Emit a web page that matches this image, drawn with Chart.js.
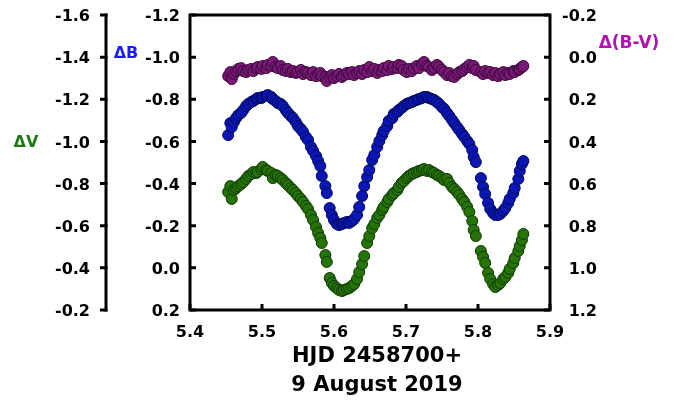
<!DOCTYPE html>
<html>
<head>
<meta charset="utf-8">
<script src="https://cdn.jsdelivr.net/npm/chart.js@4.4.0/dist/chart.umd.min.js"></script>
<style>
  html, body { margin: 0; padding: 0; background: #fff; }
  #wrap { width: 680px; height: 407px; }
</style>
</head>
<body>
<div id="wrap"><canvas id="lc" width="680" height="407"></canvas></div>
<script>
"use strict";

// HJD - 2458700 (shared by V and B observations)
const hjd = [
  5.453, 5.456, 5.458, 5.461, 5.464, 5.467, 5.471, 5.474, 5.478, 5.481,
  5.485, 5.488, 5.492, 5.494, 5.499, 5.501, 5.506, 5.508, 5.513, 5.515,
  5.519, 5.522, 5.526, 5.529, 5.533, 5.536, 5.540, 5.543, 5.547, 5.550,
  5.554, 5.557, 5.561, 5.564, 5.568, 5.571, 5.575, 5.578, 5.581, 5.583,
  5.588, 5.590, 5.594, 5.597, 5.600, 5.604, 5.607, 5.611, 5.614, 5.618,
  5.621, 5.625, 5.628, 5.632, 5.635, 5.639, 5.642, 5.646, 5.649, 5.653,
  5.656, 5.660, 5.663, 5.667, 5.669, 5.674, 5.676, 5.681, 5.683, 5.688,
  5.690, 5.694, 5.697, 5.701, 5.704, 5.708, 5.711, 5.715, 5.718, 5.722,
  5.725, 5.729, 5.732, 5.736, 5.739, 5.743, 5.746, 5.750, 5.753, 5.757,
  5.760, 5.764, 5.767, 5.771, 5.774, 5.778, 5.781, 5.785, 5.788, 5.792,
  5.794, 5.797, 5.804, 5.807, 5.810, 5.814, 5.817, 5.821, 5.824, 5.828,
  5.831, 5.835, 5.838, 5.842, 5.844, 5.849, 5.851, 5.856, 5.858, 5.861,
  5.863
];

// delta V (left outer axis)
const dV = [
  -0.760, -0.788, -0.727, -0.769, -0.779, -0.788, -0.798, -0.807, -0.822, -0.836,
  -0.845, -0.855, -0.850, -0.855, -0.869, -0.879, -0.864, -0.860, -0.850, -0.826,
  -0.841, -0.836, -0.826, -0.817, -0.803, -0.793, -0.779, -0.769, -0.755, -0.741,
  -0.727, -0.713, -0.694, -0.679, -0.651, -0.627, -0.594, -0.565, -0.542, -0.518,
  -0.461, -0.428, -0.352, -0.328, -0.314, -0.304, -0.295, -0.290, -0.295, -0.300,
  -0.304, -0.314, -0.323, -0.347, -0.380, -0.418, -0.456, -0.518, -0.551, -0.589,
  -0.608, -0.637, -0.651, -0.675, -0.689, -0.713, -0.727, -0.746, -0.755, -0.769,
  -0.784, -0.803, -0.812, -0.826, -0.836, -0.845, -0.850, -0.855, -0.860, -0.864,
  -0.869, -0.860, -0.864, -0.855, -0.850, -0.841, -0.836, -0.826, -0.817, -0.822,
  -0.803, -0.784, -0.774, -0.760, -0.746, -0.727, -0.713, -0.689, -0.665, -0.622,
  -0.580, -0.551, -0.480, -0.452, -0.423, -0.376, -0.347, -0.323, -0.309, -0.319,
  -0.328, -0.347, -0.357, -0.376, -0.395, -0.423, -0.447, -0.480, -0.504, -0.532,
  -0.561
];

// delta B (left inner axis)
const dB = [
  -0.630, -0.687, -0.668, -0.692, -0.711, -0.725, -0.735, -0.749, -0.768, -0.778,
  -0.787, -0.792, -0.801, -0.806, -0.806, -0.811, -0.816, -0.820, -0.811, -0.801,
  -0.792, -0.782, -0.778, -0.768, -0.749, -0.735, -0.721, -0.711, -0.692, -0.673,
  -0.659, -0.645, -0.621, -0.607, -0.574, -0.555, -0.531, -0.507, -0.483, -0.436,
  -0.388, -0.355, -0.284, -0.251, -0.227, -0.208, -0.203, -0.208, -0.213, -0.218,
  -0.213, -0.222, -0.232, -0.251, -0.289, -0.341, -0.388, -0.431, -0.464, -0.512,
  -0.536, -0.574, -0.602, -0.630, -0.649, -0.673, -0.697, -0.711, -0.730, -0.740,
  -0.749, -0.759, -0.768, -0.778, -0.782, -0.787, -0.792, -0.797, -0.801, -0.806,
  -0.811, -0.811, -0.806, -0.801, -0.797, -0.787, -0.778, -0.763, -0.754, -0.735,
  -0.721, -0.702, -0.687, -0.668, -0.654, -0.635, -0.621, -0.602, -0.588, -0.559,
  -0.526, -0.502, -0.426, -0.384, -0.350, -0.308, -0.279, -0.260, -0.251, -0.251,
  -0.256, -0.270, -0.284, -0.308, -0.327, -0.355, -0.379, -0.422, -0.460, -0.493,
  -0.507
];

// delta (B-V) (right axis)
const dBV = [
  0.090, 0.071, 0.104, 0.080, 0.066, 0.056, 0.052, 0.066, 0.071, 0.061,
  0.056, 0.066, 0.052, 0.047, 0.056, 0.042, 0.052, 0.037, 0.042, 0.023,
  0.047, 0.052, 0.042, 0.061, 0.066, 0.056, 0.071, 0.066, 0.075, 0.071,
  0.061, 0.080, 0.071, 0.075, 0.085, 0.071, 0.090, 0.080, 0.075, 0.090,
  0.094, 0.113, 0.094, 0.085, 0.099, 0.090, 0.080, 0.094, 0.085, 0.075,
  0.080, 0.071, 0.085, 0.075, 0.066, 0.080, 0.061, 0.071, 0.047, 0.066,
  0.056, 0.075, 0.061, 0.066, 0.052, 0.061, 0.042, 0.056, 0.047, 0.052,
  0.037, 0.042, 0.061, 0.071, 0.056, 0.066, 0.052, 0.042, 0.052, 0.033,
  0.023, 0.042, 0.047, 0.061, 0.052, 0.037, 0.047, 0.061, 0.071, 0.085,
  0.075, 0.090, 0.094, 0.080, 0.071, 0.066, 0.056, 0.047, 0.037, 0.052,
  0.042, 0.061, 0.071, 0.080, 0.066, 0.075, 0.071, 0.085, 0.075, 0.090,
  0.080, 0.071, 0.085, 0.075, 0.080, 0.066, 0.071, 0.061, 0.056, 0.047,
  0.042
];

// tick labels
const xTicks = [5.4, 5.5, 5.6, 5.7, 5.8, 5.9];
const vTicks = [-1.6, -1.4, -1.2, -1.0, -0.8, -0.6, -0.4, -0.2];
const bTicks = [-1.2, -1.0, -0.8, -0.6, -0.4, -0.2, 0.0, 0.2];
const bvTicks = [-0.2, 0.0, 0.2, 0.4, 0.6, 0.8, 1.0, 1.2];

const xTitle = ["HJD 2458700+", "9 August 2019"];

function toPoints(ys) {
    return hjd.map(function (t, i) { return { x: t, y: ys[i] }; });
}

const tickFont = "bold 16px 'DejaVu Sans'";

// draw the three y axes, frame and labels by hand
const axesPlugin = {
    id: 'axesPlugin',
    afterDraw: function (chart) {
        const ctx = chart.ctx;
        const a = chart.chartArea;
        const sx = chart.scales.x;
        const sV = chart.scales.yV;
        const sB = chart.scales.yB;
        const sBV = chart.scales.yBV;
        const vAxisX = 106;

        ctx.save();
        ctx.strokeStyle = '#000';
        ctx.lineWidth = 3;
        ctx.lineCap = 'square';

        // frame
        ctx.strokeRect(a.left, a.top, a.right - a.left, a.bottom - a.top);

        // separate dV axis
        ctx.beginPath();
        ctx.moveTo(vAxisX, sV.getPixelForValue(vTicks[0]));
        ctx.lineTo(vAxisX, sV.getPixelForValue(vTicks[vTicks.length - 1]));
        ctx.stroke();

        ctx.lineCap = 'butt';
        ctx.beginPath();
        vTicks.forEach(function (v) {
            const y = sV.getPixelForValue(v);
            ctx.moveTo(vAxisX + 1.5, y);
            ctx.lineTo(vAxisX - 6, y);
        });
        bTicks.forEach(function (v) {
            const y = sB.getPixelForValue(v);
            ctx.moveTo(a.left, y);
            ctx.lineTo(a.left + 6, y);
        });
        bvTicks.forEach(function (v) {
            const y = sBV.getPixelForValue(v);
            ctx.moveTo(a.right, y);
            ctx.lineTo(a.right - 6, y);
        });
        xTicks.forEach(function (v) {
            const x = sx.getPixelForValue(v);
            ctx.moveTo(x, a.bottom);
            ctx.lineTo(x, a.bottom - 6);
        });
        ctx.stroke();

        // tick labels
        ctx.fillStyle = '#000';
        ctx.font = tickFont;
        ctx.textBaseline = 'middle';
        ctx.textAlign = 'right';
        vTicks.forEach(function (v) {
            ctx.fillText(v.toFixed(1), 90, sV.getPixelForValue(v) + 2);
        });
        bTicks.forEach(function (v) {
            ctx.fillText(v.toFixed(1), 180, sB.getPixelForValue(v) + 2);
        });
        bvTicks.forEach(function (v) {
            ctx.fillText(v.toFixed(1), 597, sBV.getPixelForValue(v) + 2);
        });
        ctx.textAlign = 'center';
        xTicks.forEach(function (v) {
            ctx.fillText(v.toFixed(1), sx.getPixelForValue(v), 333);
        });

        // x title
        ctx.font = "bold 21px 'DejaVu Sans'";
        ctx.fillText(xTitle[0], 377, 357);
        ctx.fillText(xTitle[1], 377, 386);

        // y titles
        ctx.font = "bold 16px 'DejaVu Sans'";
        ctx.fillStyle = '#1b7a12';
        ctx.fillText('ΔV', 26, 143);
        ctx.fillStyle = '#1a1aff';
        ctx.fillText('ΔB', 126, 54);
        ctx.font = "bold 17px 'DejaVu Sans'";
        ctx.fillStyle = '#b014b0';
        ctx.fillText('Δ(B-V)', 629, 44);

        ctx.restore();
    }
};

const ctx = document.getElementById('lc');
const lightCurve = new Chart(ctx, {
    type: 'scatter',
    data: {
        datasets: [{
            label: 'B-V',
            data: toPoints(dBV),
            yAxisID: 'yBV',
            backgroundColor: '#7a1878',
            borderColor: '#3a0838',
            borderWidth: 1,
            pointRadius: 5.5
        }, {
            label: 'B',
            data: toPoints(dB),
            yAxisID: 'yB',
            backgroundColor: '#0a16b6',
            borderColor: '#020a5a',
            borderWidth: 1,
            pointRadius: 5.5
        }, {
            label: 'V',
            data: toPoints(dV),
            yAxisID: 'yV',
            backgroundColor: '#267406',
            borderColor: '#0f3a02',
            borderWidth: 1,
            pointRadius: 5.5
        }]
    },
    options: {
        responsive: false,
        animation: false,
        layout: { padding: { left: 190, right: 130, top: 15, bottom: 97 } },
        plugins: {
            legend: { display: false },
            tooltip: { enabled: false }
        },
        scales: {
            x: { type: 'linear', min: 5.4, max: 5.9, display: false },
            yV: { type: 'linear', position: 'left', min: -1.6, max: -0.2, reverse: true, display: false },
            yB: { type: 'linear', position: 'left', min: -1.2, max: 0.2, reverse: true, display: false },
            yBV: { type: 'linear', position: 'right', min: -0.2, max: 1.2, reverse: true, display: false }
        }
    },
    plugins: [axesPlugin]
});
</script>
</body>
</html>
